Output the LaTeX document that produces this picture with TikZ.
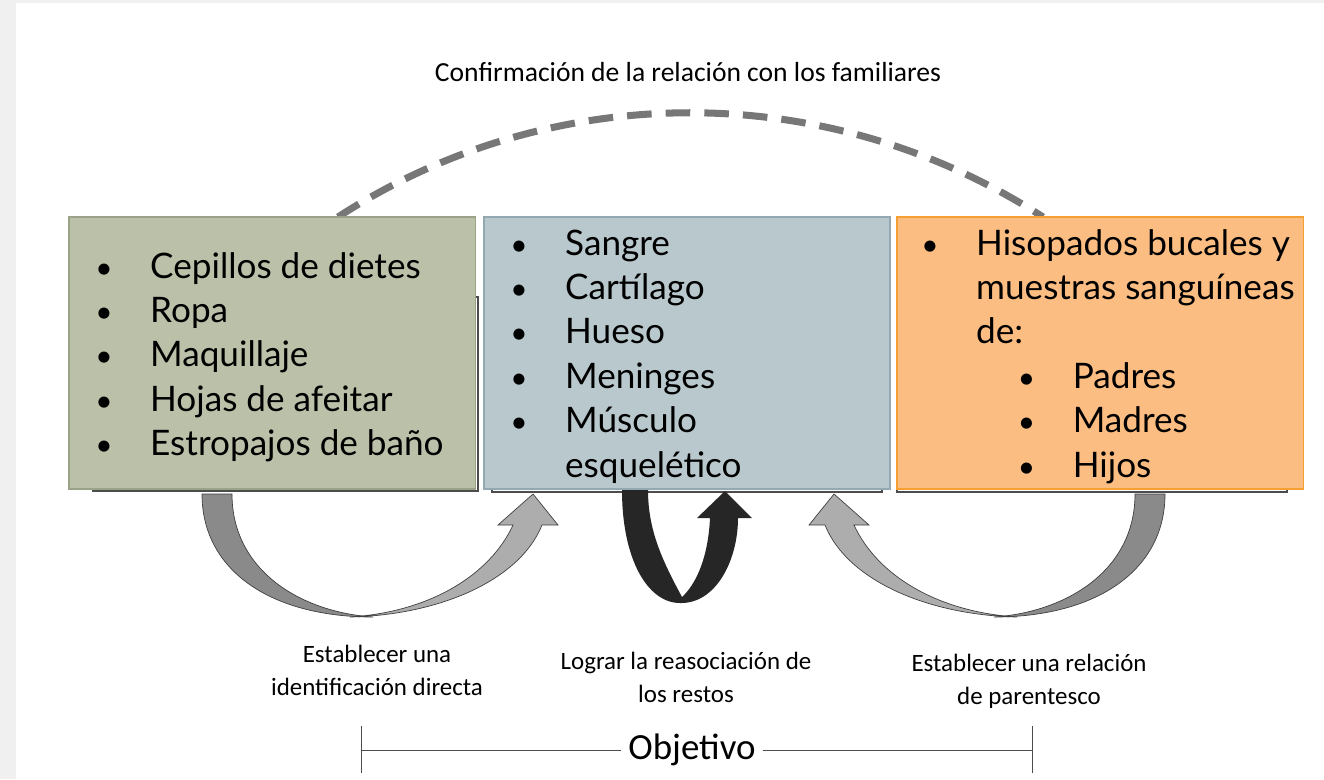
\documentclass[tikz,border=0pt]{standalone}
\usepackage{fontspec}
\newfontfamily\gill{Lato}
\newfontfamily\cali{Carlito}
\usetikzlibrary{positioning}
\definecolor{marco}{HTML}{F0F0F0}
\definecolor{verdeC}{HTML}{BBC0A9}
\definecolor{verdeB}{HTML}{9BA28A}
\definecolor{azulC}{HTML}{B9C8CD}
\definecolor{azulB}{HTML}{93A8B0}
\definecolor{naranjaC}{HTML}{FBBD82}
\definecolor{naranjaB}{HTML}{F5A032}
\definecolor{grisO}{HTML}{8A8A8A}
\definecolor{grisC}{HTML}{ADADAD}
\definecolor{trazo}{HTML}{777777}
\tikzset{
  caja/.style={draw, line width=0.8pt, inner sep=0pt, outer sep=0pt, anchor=north west,
    minimum width=8.13cm, minimum height=5.44cm},
  sombra/.style={draw=black!70, line width=0.6pt, fill=white},
  lista/.style={inner sep=0pt, anchor=base west, font=\gill\fontsize{20}{25.3}\selectfont},
  rotulo/.style={inner sep=0pt, align=center, font=\cali\fontsize{14.2}{18.7}\selectfont},
  cinta/.style={draw=black!75, line width=0.4pt},
  enlace/.style={trazo, line width=4pt, dash pattern=on 14pt off 8pt},
  regla/.style={black!70, line width=0.5pt}
}
\newcommand\itm[1]{\makebox[31.2pt][l]{\scalebox{0.85}{\textbullet}}#1}
\newcommand\subitm[1]{\hspace*{55pt}\itm{#1}}
\newcommand\flecha{%
  \filldraw[fill=grisO,cinta] (202,494) .. controls (202,570) and (270,617) .. (373,617)
    .. controls (300,612) and (232,570) .. (232,494) -- cycle;
  \filldraw[fill=grisC,cinta] (350,617) .. controls (440,615) and (520,580) .. (542,525)
    -- (558,525) -- (533,494) -- (498,525) -- (513,525)
    .. controls (490,575) and (430,612) .. (350,617) -- cycle;}

\begin{document}
\begin{tikzpicture}[x=0.02cm, y=-0.02cm]
\useasboundingbox (0,0) rectangle (1324,779);
\fill[marco] (0,0) rectangle (1324,779);
\fill[white] (16,3) rectangle (1324,779);

\node[font=\cali\fontsize{15.7}{18}\selectfont] (confirma) at (688,72) {Confirmación de la relación con los familiares};
\coordinate (arcoA) at (338,217);
\coordinate (arcoB) at (1043,217);
\draw[enlace] (arcoA) .. controls (552,78) and (828,78) .. (arcoB);

\draw[sombra] (93,297) rectangle (478,491);
\draw[sombra] (492,297) rectangle (882,492);
\draw[sombra] (897,297) rectangle (1287,492);

\node[caja, fill=verdeC, draw=verdeB] (objetos) at (69,217) {};
\node[caja, fill=azulC, draw=azulB, minimum width=8.12cm] (tejidos) at (484,217) {};
\node[caja, fill=naranjaC, draw=naranjaB] (hisopos) at (897,217) {};

\node[lista] (listaO) at (95,278) {\begin{tabular}[t]{@{}l@{}}
  \itm{Cepillos de dietes}\\ \itm{Ropa}\\ \itm{Maquillaje}\\
  \itm{Hojas de afeitar}\\ \itm{Estropajos de baño}\end{tabular}};
\node[lista] (listaT) at (510,255) {\begin{tabular}[t]{@{}l@{}}
  \itm{Sangre}\\ \itm{Cartílago}\\ \itm{Hueso}\\ \itm{Meninges}\\
  \itm{Músculo}\\ \hspace*{31.2pt}esquelético\end{tabular}};
\node[lista] (listaH) at (921,255) {\begin{tabular}[t]{@{}l@{}}
  \itm{Hisopados bucales y}\\ \hspace*{31.2pt}muestras sanguíneas\\ \hspace*{31.2pt}de:\\
  \subitm{Padres}\\ \subitm{Madres}\\ \subitm{Hijos}\end{tabular}};

\flecha
\begin{scope}[shift={(1367,0)}, xscale=-1]
  \flecha
\end{scope}
\fill[black!85] (622,490) .. controls (622,560) and (648,603) .. (680,603)
  .. controls (716,604) and (738,560) .. (738,518) -- (752,518) -- (725,491)
  -- (697,518) -- (710,518) .. controls (708,560) and (695,585) .. (682,597)
  .. controls (662,560) and (648,530) .. (648,490) -- cycle;

\node[rotulo] (directa) at (377,670) {Establecer una\\identificación directa};
\node[rotulo] (reasoc) at (686,677) {Lograr la reasociación de\\los restos};
\node[rotulo] (parent) at (1029,681) {Establecer una relación\\de parentesco};

\node[font=\cali\fontsize{21}{24}\selectfont, inner sep=4pt] (objetivo) at (692,750) {Objetivo};
\coordinate (extA) at (361,750);
\coordinate (extB) at (1032,750);
\draw[regla] (extA) -- (objetivo.west);
\draw[regla] (objetivo.east) -- (extB);
\draw[regla] (361,726) -- (361,773);
\draw[regla] (1032,726) -- (1032,773);
\end{tikzpicture}
\end{document}
